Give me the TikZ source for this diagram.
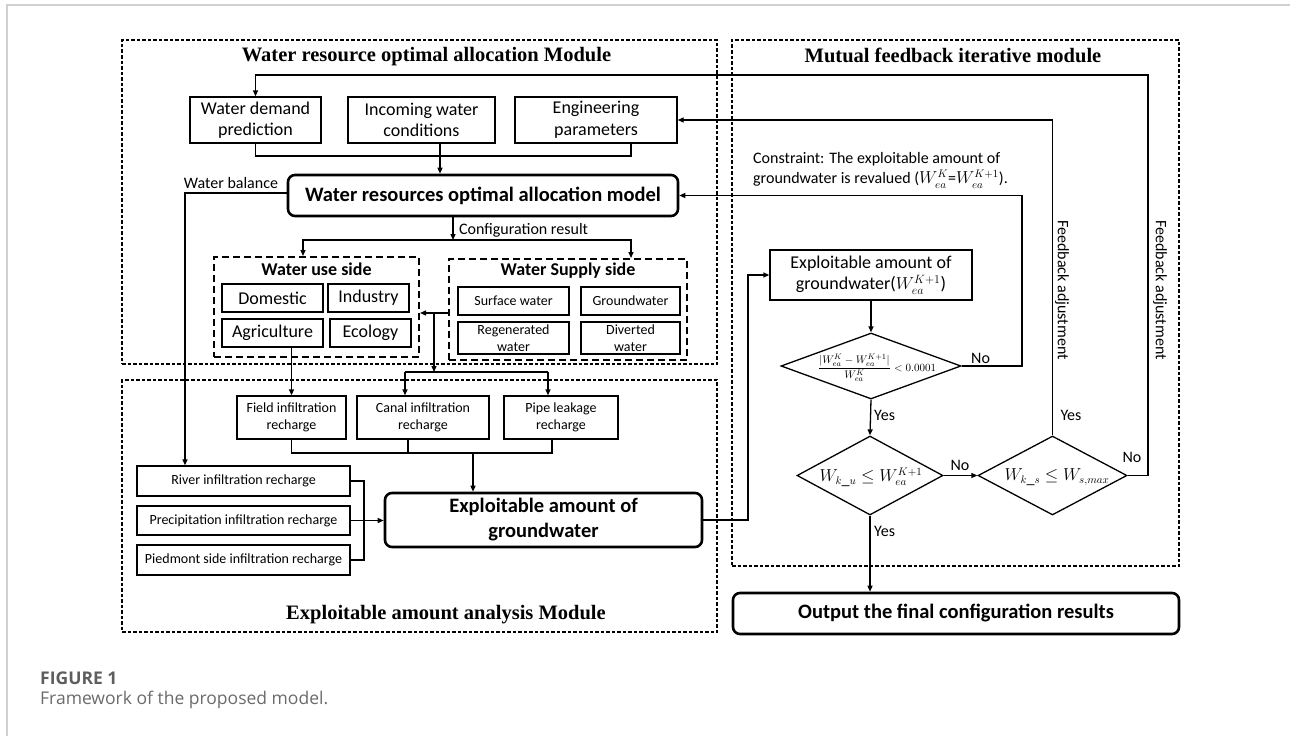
\documentclass[tikz,border=0pt]{standalone}
\usepackage{fontspec}
\setmainfont{Carlito}
\newfontfamily\serifb{Liberation Serif}
\newfontfamily\capfont{Open Sans}
\usetikzlibrary{arrows.meta,shapes.geometric,calc}
\definecolor{capgray}{HTML}{5E5E5E}
\definecolor{captext}{HTML}{6A6A6A}
\definecolor{pagegray}{HTML}{D0D0D0}
\tikzset{
 box/.style={draw, line width=1.3pt, align=center, inner sep=1pt, font=\fontsize{18}{21.5}\selectfont},
 sbox/.style={box, font=\fontsize{14}{16.5}\selectfont},
 rbox/.style={draw, line width=2.6pt, rounded corners=7pt, align=center, inner sep=1pt, font=\bfseries\fontsize{20.5}{25}\selectfont},
 module/.style={draw, line width=1.2pt, dash pattern=on 3.5pt off 2pt},
 side/.style={draw, line width=2pt, dash pattern=on 7pt off 4pt},
 sidetitle/.style={font=\bfseries\fontsize{18}{21}\selectfont, inner sep=0pt},
 arr/.style={-{Triangle[length=6pt,width=5pt]}, line width=1.3pt},
 ln/.style={line width=1.3pt},
 lbl/.style={font=\fontsize{16}{19}\selectfont, inner sep=0pt},
 dia/.style={draw, diamond, line width=1.3pt, inner sep=0pt},
 mtitle/.style={font=\serifb\bfseries\fontsize{20.5}{24}\selectfont, inner sep=0pt},
}
\begin{document}
\begin{tikzpicture}[x=1pt,y=-1pt]
\useasboundingbox (0,0) rectangle (1290,736);
% page lines
\draw[pagegray, line width=1.5pt] (7,736) -- (7,5) -- (1290,5);

% modules
\node[module, minimum width=595pt, minimum height=324pt] (m1) at (419.5,202) {};
\node[module, minimum width=447pt, minimum height=526pt] (m2) at (955.5,303) {};
\node[module, minimum width=595pt, minimum height=252pt] (m3) at (419.5,506) {};
\node[mtitle] (t1) at (426.5,57) {Water resource optimal allocation Module};
\node[mtitle] (t2) at (953,55) {Mutual feedback iterative module};
\node[mtitle] (t3) at (446,615) {Exploitable amount analysis Module};

% top module nodes
\node[box, minimum width=131pt, minimum height=46pt] (wdp) at (255.5,120) {Water demand\\prediction};
\node[box, minimum width=147pt, minimum height=46pt] (iwc) at (421.5,120) {Incoming water\\conditions};
\node[box, minimum width=162pt, minimum height=46pt] (eng) at (596,120) {Engineering\\parameters};
\node[rbox, minimum width=390pt, minimum height=41pt] (model) at (483,195.5) {Water resources optimal allocation model};

\node[side, minimum width=205pt, minimum height=100pt] (use) at (316.5,307) {};
\node[sidetitle] (uset) at (316.5,269) {Water use side};
\node[box, minimum width=101pt, minimum height=28pt] (dom) at (272.5,298) {Domestic};
\node[box, minimum width=81pt, minimum height=28pt] (ind) at (368.5,298) {Industry};
\node[box, minimum width=101pt, minimum height=28pt] (agr) at (272.5,333) {Agriculture};
\node[box, minimum width=81pt, minimum height=28pt] (eco) at (370.5,333) {Ecology};

\node[side, minimum width=238pt, minimum height=101pt] (sup) at (568,309.5) {};
\node[sidetitle] (supt) at (568,271) {Water Supply side};
\node[sbox, minimum width=111pt, minimum height=28pt] (sw) at (513.5,301) {Surface water};
\node[sbox, minimum width=99pt, minimum height=28pt] (gwt) at (630.5,301) {Groundwater};
\node[sbox, minimum width=111pt, minimum height=32pt] (rw) at (513.5,338) {Regenerated\\water};
\node[sbox, minimum width=99pt, minimum height=32pt] (dw) at (630.5,338) {Diverted\\water};

% bottom module nodes
\node[sbox, minimum width=109pt, minimum height=43pt] (field) at (291.5,417.5) {Field infiltration\\recharge};
\node[sbox, minimum width=132pt, minimum height=43pt] (canal) at (423,417.5) {Canal infiltration\\recharge};
\node[sbox, minimum width=114pt, minimum height=43pt] (pipe) at (561,417.5) {Pipe leakage\\recharge};
\node[rbox, minimum width=317pt, minimum height=54pt, text depth=4pt] (gw) at (543.5,520) {Exploitable amount of\\groundwater};
\node[sbox, minimum width=213pt, minimum height=30pt] (river) at (243.5,481) {River infiltration recharge};
\node[sbox, minimum width=213pt, minimum height=29pt] (prec) at (243.5,520.5) {Precipitation infiltration recharge};
\node[sbox, minimum width=213pt, minimum height=30pt] (pied) at (243.5,560) {Piedmont side infiltration recharge};

% right module nodes
\node[box, minimum width=202pt, minimum height=50pt] (ex) at (871,275) {Exploitable amount of\\groundwater($W_{ea}^{K+1}$)};
\node[dia, minimum width=180pt, minimum height=66pt] (d1) at (871,366) {};
\node[inner sep=0pt, font=\fontsize{11}{13}\selectfont] (d1t) at (877,368) {$\displaystyle\frac{|W_{ea}^{K}-W_{ea}^{K+1}|}{W_{ea}^{K}}<0.0001$};
\node[dia, minimum width=146pt, minimum height=79pt] (d2) at (870,475.5) {};
\node[inner sep=0pt, font=\fontsize{16}{19}\selectfont] (d2t) at (871,477) {$W_{k\_u}\leq W_{ea}^{K+1}$};
\node[dia, minimum width=149pt, minimum height=79pt] (d3) at (1052.5,475.5) {};
\node[inner sep=0pt, font=\fontsize{16}{19}\selectfont] (d3t) at (1057,477) {$W_{k\_s}\leq W_{s,max}$};
\node[rbox, minimum width=446pt, minimum height=41pt] (out) at (956,613.5) {Output the final configuration results};

\node[lbl, anchor=west, align=left, font=\fontsize{16}{20}\selectfont] (cons) at (753,170.5) {Constraint: The exploitable amount of\\groundwater is revalued ($W_{ea}^{K}$=$W_{ea}^{K+1}$).};
\node[lbl, rotate=-90] (fb1) at (1062,290) {Feedback adjustment};
\node[lbl, rotate=-90] (fb2) at (1160,290) {Feedback adjustment};

% connectors: top
\coordinate (fbR) at (1148,75);
\draw[arr] (d3.east) -| (fbR) -| (wdp.north);
\node[lbl] (no3) at (1132,457) {No};
\draw[arr] (d3.north) |- (eng.east);
\node[lbl] (yes3) at (1071,415) {Yes};

\coordinate (j1) at (631,156);
\draw[ln] (wdp.south) |- (j1) -- ([xshift=35pt]eng.south);
\coordinate (a4) at ([xshift=18.5pt]iwc.south);
\draw[arr] (a4) -- (a4 |- model.north);

\coordinate (wbc) at (185,193);
\draw[arr] (model.west |- wbc) -- (wbc) -- (wbc |- river.north);
\node[lbl] (wbl) at (231,183) {Water balance};

\coordinate (cr) at (453,240);
\draw[arr] (cr |- model.south) -- (cr);
\node[lbl, anchor=west] (crl) at (459,230) {Configuration result};
\coordinate (cu) at (303,240);
\coordinate (cs) at (631,240);
\draw[arr] (cs) -- (cu) -- (cu |- use.north);
\draw[arr] (cu) -- (cs) -- (cs |- sup.north);

\coordinate (su) at (434,313);
\draw[arr] (sup.west |- su) -- (use.east |- su);
\coordinate (jc) at (434,372);
\draw[arr] (su) -- (jc);
\coordinate (cL) at (405,372);
\coordinate (cR) at (548,372);
\draw[ln] (cL) -- (cR);
\draw[arr] (cL) -- (cL |- canal.north);
\draw[arr] (cR) -- (cR |- pipe.north);

\draw[arr] (field.north |- agr.south) -- (field.north);

\coordinate (mR) at (552,453);
\coordinate (mC) at (408,453);
\coordinate (mM) at (473,453);
\draw[ln] (field.south) |- (mR) -- (mR |- pipe.south);
\draw[ln] (mC) -- (mC |- canal.south);
\draw[arr] (mM) -- (mM |- gw.north);

\coordinate (rx) at (364,481);
\draw[ln] (river.east) -- (rx) |- (pied.east);
\draw[arr] (prec.east) -- (gw.west |- prec.east);

\coordinate (g2) at (748,520);
\draw[arr] (gw.east) -- (g2) |- (ex.west);
\draw[arr] (ex.south) -- (d1.north);

\coordinate (n1) at (1022,195.5);
\draw[arr] (d1.east) -| (n1) -- (model.east);
\node[lbl, anchor=west] (no1) at (971,358) {No};
\draw[arr] (d1.south) -- (d2.north);
\node[lbl, anchor=west] (yes1) at (874,415) {Yes};
\draw[arr] (d2.east) -- (d3.west);
\node[lbl] (no2) at (960,465) {No};
\draw[arr] (d2.south) -- (d2.south |- out.north);
\node[lbl, anchor=west] (yes2) at (874,531) {Yes};

% caption
\node[anchor=base west, inner sep=0pt, text=capgray, font=\capfont\bfseries\fontsize{17.5}{20}\selectfont] (fig) at (40,684) {FIGURE 1};
\node[anchor=base west, inner sep=0pt, text=captext, font=\capfont\fontsize{17.5}{20}\selectfont] (capt) at (40,704) {Framework of the proposed model.};
\end{tikzpicture}
\end{document}
